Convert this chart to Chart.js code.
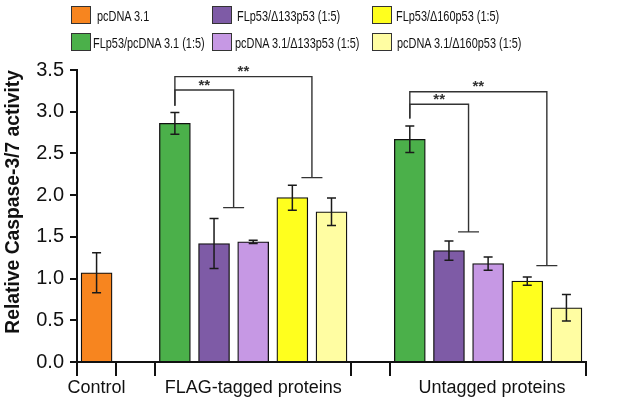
<!DOCTYPE html>
<html>
<head>
<meta charset="utf-8">
<script src="https://cdn.jsdelivr.net/npm/chart.js@4.4.1/dist/chart.umd.min.js"></script>
<style>
  html, body { margin: 0; padding: 0; background: #fff; }
  #wrap { position: relative; width: 617px; height: 401px; }
  canvas { position: absolute; left: 0; top: 0; }
  .leg { position: absolute; font-family: "Liberation Sans", Arial, sans-serif; font-size: 14px; color: #111; white-space: nowrap; height: 20px; }
  .leg i { position: absolute; left: 0; top: 0; width: 18px; height: 16px; border: 1.5px solid #333; }
  .leg span { position: absolute; top: 2px; display: inline-block; transform: scaleX(0.78); transform-origin: 0 0; }
</style>
</head>
<body>
<div id="wrap">
  <canvas id="chart" width="617" height="401"></canvas>
  <div id="legend"></div>
</div>
<script>
// groups along the x axis
const groupNames = ['Control', 'FLAG-tagged proteins', 'Untagged proteins'];
const groupCenters = [0, 4, 10.1];
const groupEdges = [-0.5, 0.5, 1.5, 6.5, 7.5, 12.5];

// series (one per colour), bar slots and values
const seriesNames = ['pcDNA 3.1', 'FLp53/pcDNA 3.1 (1:5)', 'FLp53/\u0394133p53 (1:5)',
  'pcDNA 3.1/\u0394133p53 (1:5)', 'FLp53/\u0394160p53 (1:5)', 'pcDNA 3.1/\u0394160p53 (1:5)'];
const seriesColors = ['#F7851F', '#4BB04A', '#7E5BA6', '#C698E4', '#FFFF1E', '#FFFDA2'];

const pcdnaX = [0];
const pcdnaVal = [1.07];
const pcdnaErr = [0.24];

const flpPcdnaX = [2, 8];
const flpPcdnaVal = [2.86, 2.67];
const flpPcdnaErr = [0.13, 0.16];

const flpD133X = [3, 9];
const flpD133Val = [1.42, 1.335];
const flpD133Err = [0.30, 0.115];

const pcdnaD133X = [4, 10];
const pcdnaD133Val = [1.44, 1.18];
const pcdnaD133Err = [0.02, 0.08];

const flpD160X = [5, 11];
const flpD160Val = [1.97, 0.97];
const flpD160Err = [0.15, 0.05];

const pcdnaD160X = [6, 12];
const pcdnaD160Val = [1.80, 0.65];
const pcdnaD160Err = [0.165, 0.16];

// significance brackets
const bracketFrom = [2, 2, 8, 8];
const bracketTo = [3.5, 5.5, 9.5, 11.5];
const bracketTop = [3.26, 3.42, 3.09, 3.24];
const bracketStart = [3.07, 3.07, 2.92, 2.92];
const bracketEnd = [1.85, 2.21, 1.56, 1.155];
const bracketLabel = ['**', '**', '**', '**'];

const yTicks = [0, 0.5, 1, 1.5, 2, 2.5, 3, 3.5];

const xs = [pcdnaX, flpPcdnaX, flpD133X, pcdnaD133X, flpD160X, pcdnaD160X];
const vals = [pcdnaVal, flpPcdnaVal, flpD133Val, pcdnaD133Val, flpD160Val, pcdnaD160Val];
const errs = [pcdnaErr, flpPcdnaErr, flpD133Err, pcdnaD133Err, flpD160Err, pcdnaD160Err];

const FONT = '"Liberation Sans", Arial, sans-serif';

// HTML legend, 3 columns x 2 rows: [box left, top, text left]
const legendPos = [[71, 6, 26], [71, 33, 22], [212, 6, 25], [212, 33, 23], [372, 6, 24], [372, 33, 25]];
const legend = document.getElementById('legend');
seriesNames.forEach((name, i) => {
  const d = document.createElement('div');
  d.className = 'leg';
  d.style.left = legendPos[i][0] + 'px';
  d.style.top = legendPos[i][1] + 'px';
  d.innerHTML = '<i style="background:' + seriesColors[i] + '"></i><span style="left:' +
    legendPos[i][2] + 'px">' + name + '</span>';
  legend.appendChild(d);
});

const datasets = seriesNames.map((name, i) => ({
  label: name,
  data: xs[i].map((x, j) => ({ x: x, y: vals[i][j] })),
  backgroundColor: seriesColors[i],
  borderColor: '#111',
  borderWidth: 1.3,
  barThickness: 31,
  grouped: false
}));

// error bars and significance brackets
const extras = {
  id: 'extras',
  afterDatasetsDraw(chart) {
    const c = chart.ctx;
    const sx = chart.scales.x, sy = chart.scales.y;
    c.save();
    c.strokeStyle = '#1a1a1a';
    c.lineWidth = 1.5;
    xs.forEach((arr, i) => {
      arr.forEach((x, j) => {
        const px = sx.getPixelForValue(x);
        const hi = sy.getPixelForValue(vals[i][j] + errs[i][j]);
        const lo = sy.getPixelForValue(vals[i][j] - errs[i][j]);
        c.beginPath();
        c.moveTo(px, hi); c.lineTo(px, lo);
        c.moveTo(px - 4.5, hi); c.lineTo(px + 4.5, hi);
        c.moveTo(px - 4.5, lo); c.lineTo(px + 4.5, lo);
        c.stroke();
      });
    });
    c.strokeStyle = '#333';
    c.lineWidth = 1.4;
    c.fillStyle = '#333';
    c.font = 'bold 15px ' + FONT;
    c.textAlign = 'center';
    c.textBaseline = 'bottom';
    bracketFrom.forEach((f, k) => {
      const x1 = sx.getPixelForValue(f), x2 = sx.getPixelForValue(bracketTo[k]);
      const yt = sy.getPixelForValue(bracketTop[k]);
      c.beginPath();
      c.moveTo(x1, sy.getPixelForValue(bracketStart[k]));
      c.lineTo(x1, yt);
      c.lineTo(x2, yt);
      c.lineTo(x2, sy.getPixelForValue(bracketEnd[k]));
      c.moveTo(x2 - 10.5, sy.getPixelForValue(bracketEnd[k]));
      c.lineTo(x2 + 10.5, sy.getPixelForValue(bracketEnd[k]));
      c.stroke();
      c.fillText(bracketLabel[k], (x1 + x2) / 2, yt + 3);
    });
    c.restore();
  }
};

new Chart(document.getElementById('chart'), {
  type: 'bar',
  data: { datasets: datasets },
  options: {
    responsive: false,
    animation: false,
    layout: { padding: { top: 70, right: 31, left: 0, bottom: 0 } },
    plugins: { legend: { display: false }, tooltip: { enabled: false } },
    scales: {
      x: {
        type: 'linear',
        min: -0.5,
        max: 12.5,
        offset: false,
        position: 'bottom',
        afterBuildTicks: (s) => { s.ticks = groupEdges.map(v => ({ value: v })); },
        afterFit: (s) => { s.height = 14; },
        ticks: { display: false },
        grid: { drawOnChartArea: false, offset: false, color: '#111', tickLength: 14, lineWidth: 2 },
        border: { display: true, color: '#111', width: 2 }
      },
      x2: {
        type: 'linear',
        min: -0.5,
        max: 12.5,
        offset: false,
        position: 'bottom',
        afterBuildTicks: (s) => { s.ticks = groupCenters.map(v => ({ value: v })); },
        afterFit: (s) => { s.height = 25; },
        ticks: {
          autoSkip: false,
          maxRotation: 0,
          padding: 1,
          color: '#111',
          font: { family: FONT, size: 18 },
          callback: (v) => groupNames[groupCenters.indexOf(v)]
        },
        grid: { display: false, drawTicks: false },
        border: { display: false }
      },
      y: {
        min: 0,
        max: 3.5,
        afterBuildTicks: (s) => { s.ticks = yTicks.map(v => ({ value: v })); },
        afterFit: (s) => { s.width = 77; },
        ticks: {
          color: '#111',
          padding: 6,
          font: { family: FONT, size: 20 },
          callback: (v) => v.toFixed(1)
        },
        grid: { drawOnChartArea: false, color: '#111', tickLength: 7, lineWidth: 2 },
        border: { display: true, color: '#111', width: 2 },
        title: {
          display: true,
          text: 'Relative Caspase-3/7 activity',
          color: '#111',
          align: 'end',
          padding: { top: 2, bottom: 0 },
          font: { family: FONT, size: 19.3, weight: 'bold' }
        }
      }
    }
  },
  plugins: [extras]
});
</script>
</body>
</html>
